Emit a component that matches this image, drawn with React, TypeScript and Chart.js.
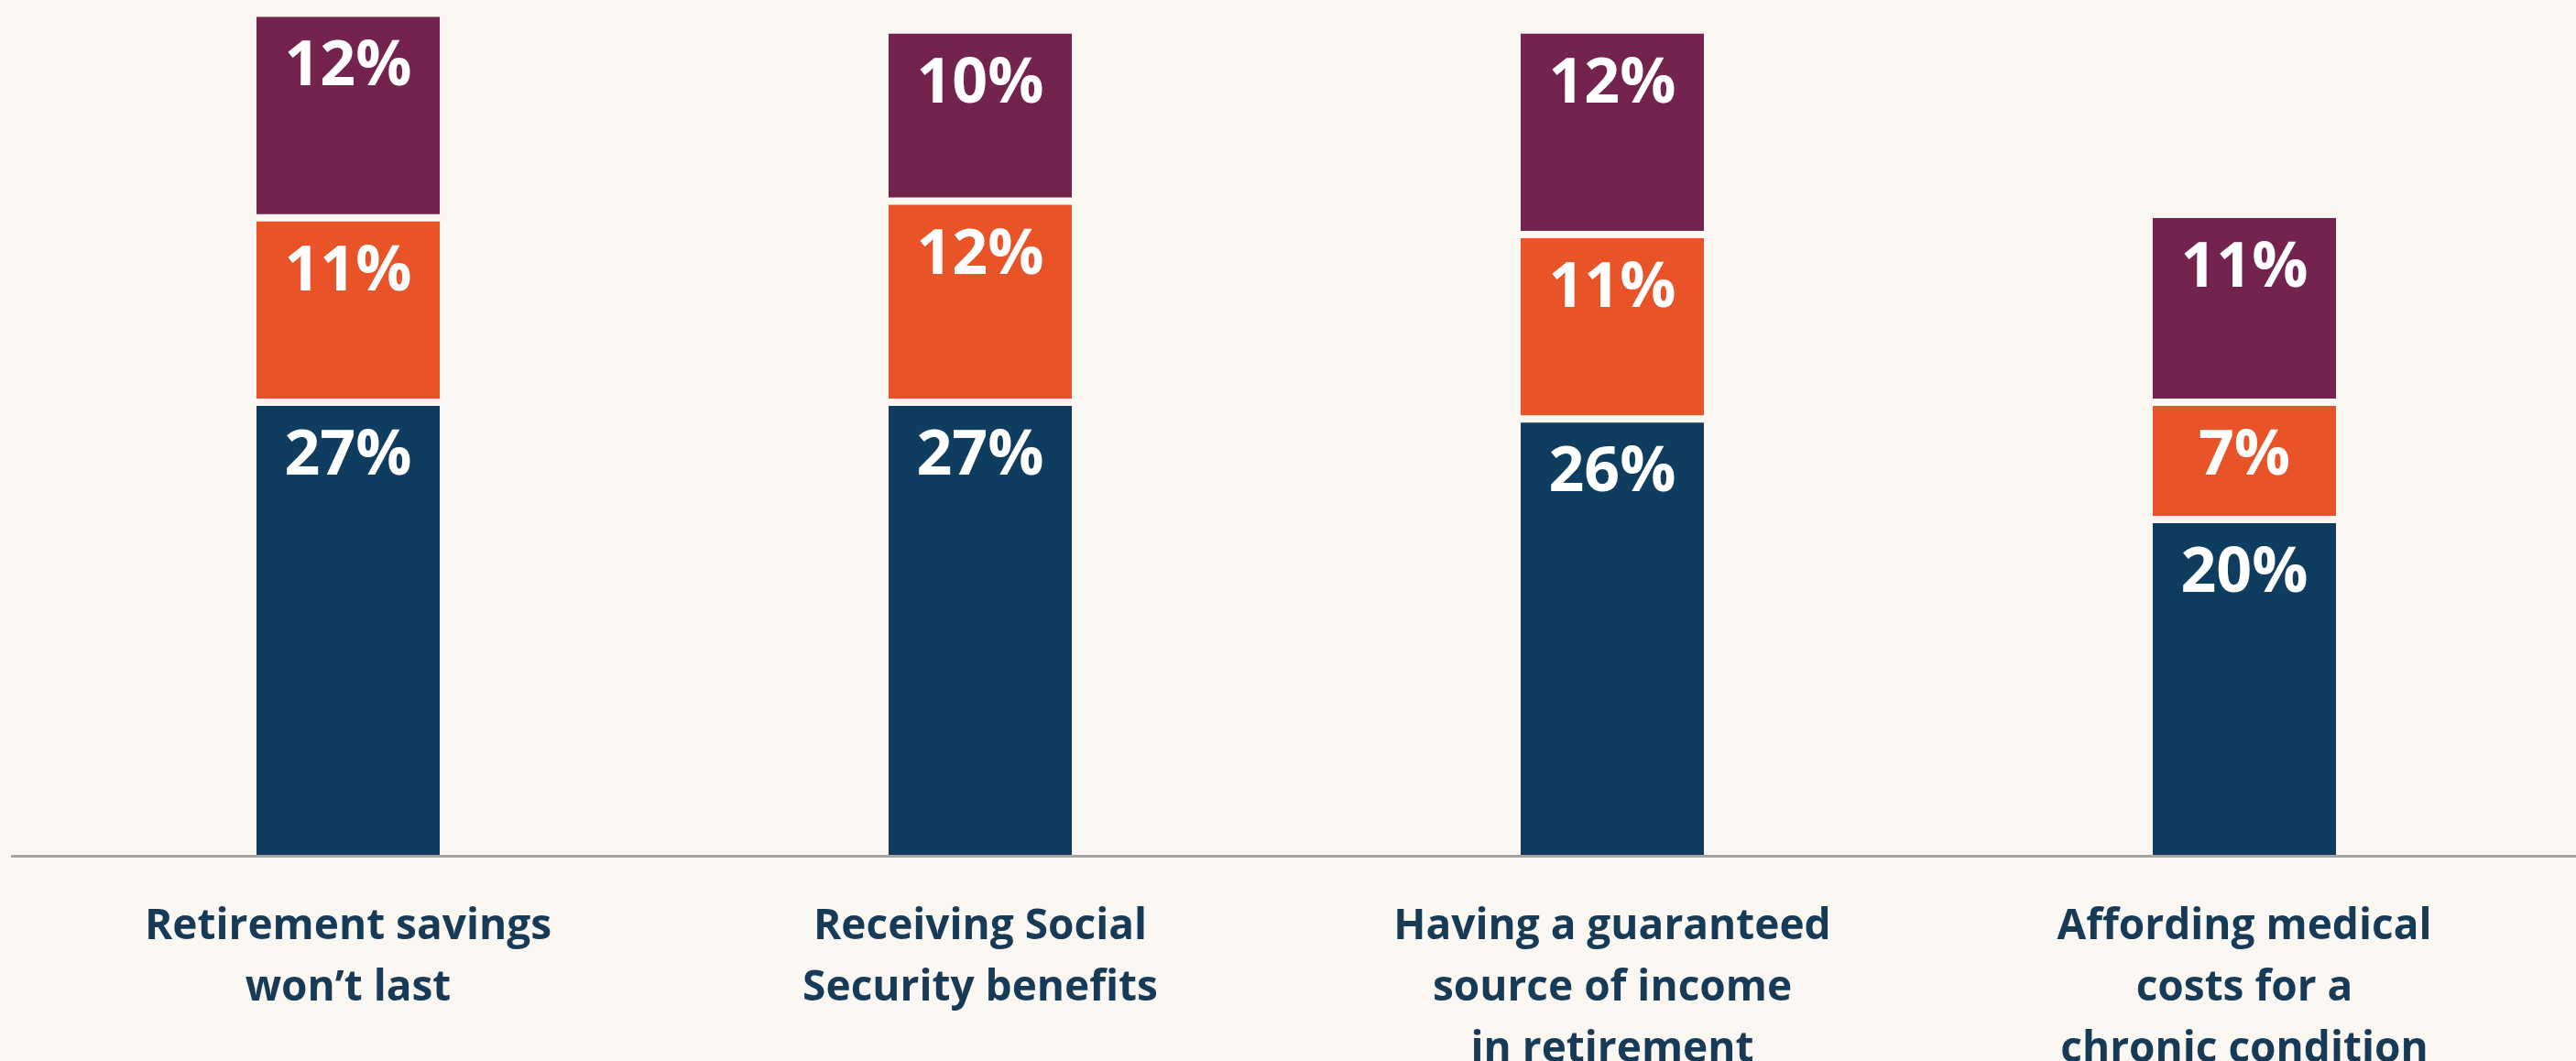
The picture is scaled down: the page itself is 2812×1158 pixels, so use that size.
import { useEffect, useRef } from 'react';
import { Chart, registerables } from 'chart.js';

Chart.register(...registerables);

const categories: string[][] = [
  ['Retirement savings', 'won\u2019t last'],
  ['Receiving Social', 'Security benefits'],
  ['Having a guaranteed', 'source of income', 'in retirement'],
  ['Affording medical', 'costs for a', 'chronic condition'],
];
const navyValues = [27, 27, 26, 20];
const orangeValues = [11, 12, 11, 7];
const purpleValues = [12, 10, 12, 11];

const BG = '#faf7f2';
const NAVY = '#0f3d5f';
const ORANGE = '#e85428';
const PURPLE = '#74234f';
const TEXT = '#173a57';
const GAP = 4;
const FONT = '"Open Sans"';

export default function App() {
  const ref = useRef<HTMLCanvasElement>(null);

  useEffect(() => {
    let chart: Chart | null = null;
    let cancelled = false;

    const bgPlugin = {
      id: 'bgFill',
      beforeDraw(c: any) {
        const { ctx, width, height } = c;
        ctx.save();
        ctx.fillStyle = BG;
        ctx.fillRect(0, 0, width, height);
        ctx.restore();
      },
    };

    const baselinePlugin = {
      id: 'baseline',
      afterDatasetsDraw(c: any) {
        const { ctx } = c;
        const y = c.scales.y.getPixelForValue(0);
        ctx.save();
        ctx.strokeStyle = '#a6a5a0';
        ctx.lineWidth = 3;
        ctx.beginPath();
        ctx.moveTo(12, y + 1.5);
        ctx.lineTo(c.width, y + 1.5);
        ctx.stroke();
        ctx.restore();
      },
    };

    const valueLabelPlugin = {
      id: 'valueLabels',
      afterDatasetsDraw(c: any) {
        const { ctx } = c;
        ctx.save();
        ctx.fillStyle = '#ffffff';
        ctx.font = `bold 68px ${FONT}`;
        ctx.textAlign = 'center';
        ctx.textBaseline = 'alphabetic';
        c.data.datasets.forEach((ds: any, di: number) => {
          const meta = c.getDatasetMeta(di);
          const topBorder = di === 2 ? 0 : GAP;
          meta.data.forEach((el: any, i: number) => {
            const v = ds.data[i];
            const visTop = el.y + topBorder;
            ctx.fillText(`${v}%`, el.x, visTop + 27 + 48);
          });
        });
        ctx.restore();
      },
    };

    const create = () => {
      if (cancelled || !ref.current) return;
      chart = new Chart(ref.current, {
        type: 'bar',
        data: {
          labels: categories as any,
          datasets: [
            {
              label: 'navy',
              data: navyValues,
              backgroundColor: NAVY,
              borderColor: BG,
              borderWidth: { top: GAP, bottom: 0, left: 0, right: 0 },
              borderSkipped: false,
            },
            {
              label: 'orange',
              data: orangeValues,
              backgroundColor: ORANGE,
              borderColor: BG,
              borderWidth: { top: GAP, bottom: GAP, left: 0, right: 0 },
              borderSkipped: false,
            },
            {
              label: 'purple',
              data: purpleValues,
              backgroundColor: PURPLE,
              borderColor: BG,
              borderWidth: { top: 0, bottom: GAP, left: 0, right: 0 },
              borderSkipped: false,
            },
          ],
        },
        options: {
          responsive: false,
          animation: false,
          devicePixelRatio: 1,
          layout: { padding: { left: 35, right: 17, top: 0, bottom: 0 } },
          datasets: {
            bar: { categoryPercentage: 1, barPercentage: 0.29 },
          },
          plugins: {
            legend: { display: false },
            tooltip: { enabled: false },
          },
          scales: {
            x: {
              stacked: true,
              grid: { display: false, drawTicks: false },
              border: { display: false },
              ticks: {
                autoSkip: false,
                maxRotation: 0,
                minRotation: 0,
                padding: 45,
                color: TEXT,
                font: { family: FONT, weight: 'bold', size: 46, lineHeight: 67 / 46 },
              },
              afterFit: (scale: any) => {
                scale.height = 225;
              },
            },
            y: {
              stacked: true,
              display: false,
              min: 0,
              max: 51,
            },
          },
        },
        plugins: [bgPlugin, baselinePlugin, valueLabelPlugin],
      });
    };

    const fontsApi = (document as any).fonts;
    if (fontsApi && fontsApi.load) {
      Promise.all([fontsApi.load(`bold 46px ${FONT}`), fontsApi.load(`bold 68px ${FONT}`)])
        .catch(() => null)
        .then(create);
    } else {
      create();
    }

    return () => {
      cancelled = true;
      if (chart) chart.destroy();
    };
  }, []);

  return (
    <div style={{ position: 'absolute', left: 0, top: 0, width: 2812, height: 1158, background: BG }}>
      <canvas ref={ref} width={2812} height={1158} style={{ display: 'block' }} />
    </div>
  );
}
